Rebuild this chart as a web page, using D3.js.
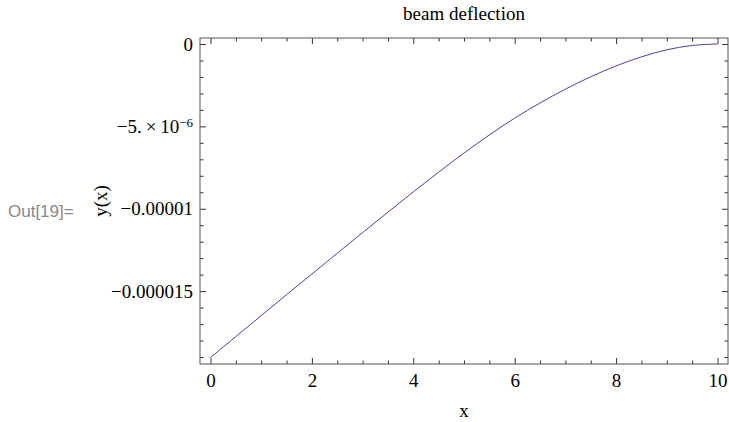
<!DOCTYPE html>
<html>
<head>
<meta charset="utf-8">
<script src="https://cdn.jsdelivr.net/npm/d3@7"></script>
<style>
  body { margin: 0; background: #fff; }
  svg { display: block; }
</style>
</head>
<body>
<div id="chart"></div>
<script>
// Data, y in metres
var xValues = [0, 0.5, 1, 1.5, 2, 2.5, 3, 3.5, 4, 4.5, 5, 5.5, 6, 6.5, 7, 7.5, 8, 8.5, 9, 9.5, 10];
var yValues = [-19.03e-6, -17.76e-6, -16.49e-6, -15.22e-6, -13.96e-6, -12.70e-6, -11.45e-6, -10.21e-6,
               -8.98e-6, -7.78e-6, -6.62e-6, -5.52e-6, -4.50e-6, -3.58e-6, -2.74e-6, -1.99e-6,
               -1.33e-6, -0.78e-6, -0.35e-6, -0.09e-6, 0];

var xTicks = [0, 2, 4, 6, 8, 10];
var yTicks = [0, -5e-6, -1e-5, -1.5e-5];
var yTickLabels = ["0", "\u22125.\u2009\u00d7\u200910^\u22126", "\u22120.00001", "\u22120.000015"];

var title = "beam deflection";
var xLabel = "x";
var yLabel = "y(x)";
var outLabel = "Out[19]=";

var W = 729, H = 422;
var frame = {left: 200, right: 728, top: 38, bottom: 364};
var pad = 10.5; // plot range padding in px
var serif = "'Liberation Serif', 'Times New Roman', serif";

var svg = d3.select("#chart").append("svg")
    .attr("width", W)
    .attr("height", H);

var x = d3.scaleLinear()
    .domain(d3.extent(xValues))
    .range([frame.left + pad, frame.right - pad]);

var y = d3.scaleLinear()
    .domain([d3.min(yValues), 0])
    .range([frame.bottom - 6.5, frame.top + 6]);

var xMinor = d3.range(0, 10.01, 0.5).filter(function(d) { return xTicks.indexOf(d) < 0; });
var yMinor = d3.range(-19, 0.5, 1).filter(function(d) { return d % 5 !== 0; })
    .map(function(d) { return d * 1e-6; });

function drawAxis(axis, tx, ty) {
  var g = svg.append("g")
      .attr("transform", "translate(" + tx + "," + ty + ")")
      .call(axis);
  g.select(".domain").remove();
  g.selectAll("line").attr("stroke", "#333");
  g.selectAll("text")
      .attr("fill", "#000")
      .style("font-family", serif)
      .style("font-size", "19px");
  return g;
}

// bottom
drawAxis(d3.axisBottom(x).tickValues(xTicks).tickSize(-6).tickPadding(10).tickFormat(d3.format("d")), 0, frame.bottom);
drawAxis(d3.axisBottom(x).tickValues(xMinor).tickSize(-3.5).tickFormat(""), 0, frame.bottom);
// top
drawAxis(d3.axisTop(x).tickValues(xTicks).tickSize(-6).tickFormat(""), 0, frame.top);
drawAxis(d3.axisTop(x).tickValues(xMinor).tickSize(-3.5).tickFormat(""), 0, frame.top);
// left
var yAxisG = drawAxis(d3.axisLeft(y).tickValues(yTicks).tickSize(-6).tickPadding(7)
    .tickFormat(function(d, i) { return yTickLabels[i]; }), frame.left, 0);
drawAxis(d3.axisLeft(y).tickValues(yMinor).tickSize(-3.5).tickFormat(""), frame.left, 0);
// right
drawAxis(d3.axisRight(y).tickValues(yTicks).tickSize(-6).tickFormat(""), frame.right, 0);
drawAxis(d3.axisRight(y).tickValues(yMinor).tickSize(-3.5).tickFormat(""), frame.right, 0);

// superscript for the scientific label
yAxisG.selectAll("text").each(function(d, i) {
  var s = yTickLabels[i];
  if (s.indexOf("^") < 0) return;
  var parts = s.split("^");
  var t = d3.select(this).text(null);
  t.append("tspan").text(parts[0]);
  t.append("tspan").attr("dy", "-0.45em").style("font-size", "13px").text(parts[1]);
});

// frame
svg.append("rect")
    .attr("x", frame.left)
    .attr("y", frame.top)
    .attr("width", frame.right - frame.left)
    .attr("height", frame.bottom - frame.top)
    .attr("fill", "none")
    .attr("stroke", "#555")
    .attr("stroke-width", 1);

// curve
var line = d3.line()
    .x(function(d, i) { return x(xValues[i]); })
    .y(function(d) { return y(d); })
    .curve(d3.curveMonotoneX);

svg.append("path")
    .datum(yValues)
    .attr("d", line)
    .attr("fill", "none")
    .attr("stroke", "#4546a3")
    .attr("stroke-width", 1);

// texts
svg.append("text")
    .attr("x", (frame.left + frame.right) / 2)
    .attr("y", 20)
    .attr("text-anchor", "middle")
    .style("font-family", serif)
    .style("font-size", "19px")
    .text(title);

svg.append("text")
    .attr("x", (frame.left + frame.right) / 2)
    .attr("y", 417)
    .attr("text-anchor", "middle")
    .style("font-family", serif)
    .style("font-size", "19px")
    .text(xLabel);

svg.append("text")
    .attr("transform", "translate(107," + ((frame.top + frame.bottom) / 2) + ") rotate(-90)")
    .attr("text-anchor", "middle")
    .style("font-family", serif)
    .style("font-size", "19px")
    .text(yLabel);

svg.append("text")
    .attr("x", 8)
    .attr("y", 217)
    .style("font-family", "'Liberation Sans', Arial, sans-serif")
    .style("font-size", "17px")
    .style("fill", "#888")
    .text(outLabel);
</script>
</body>
</html>
